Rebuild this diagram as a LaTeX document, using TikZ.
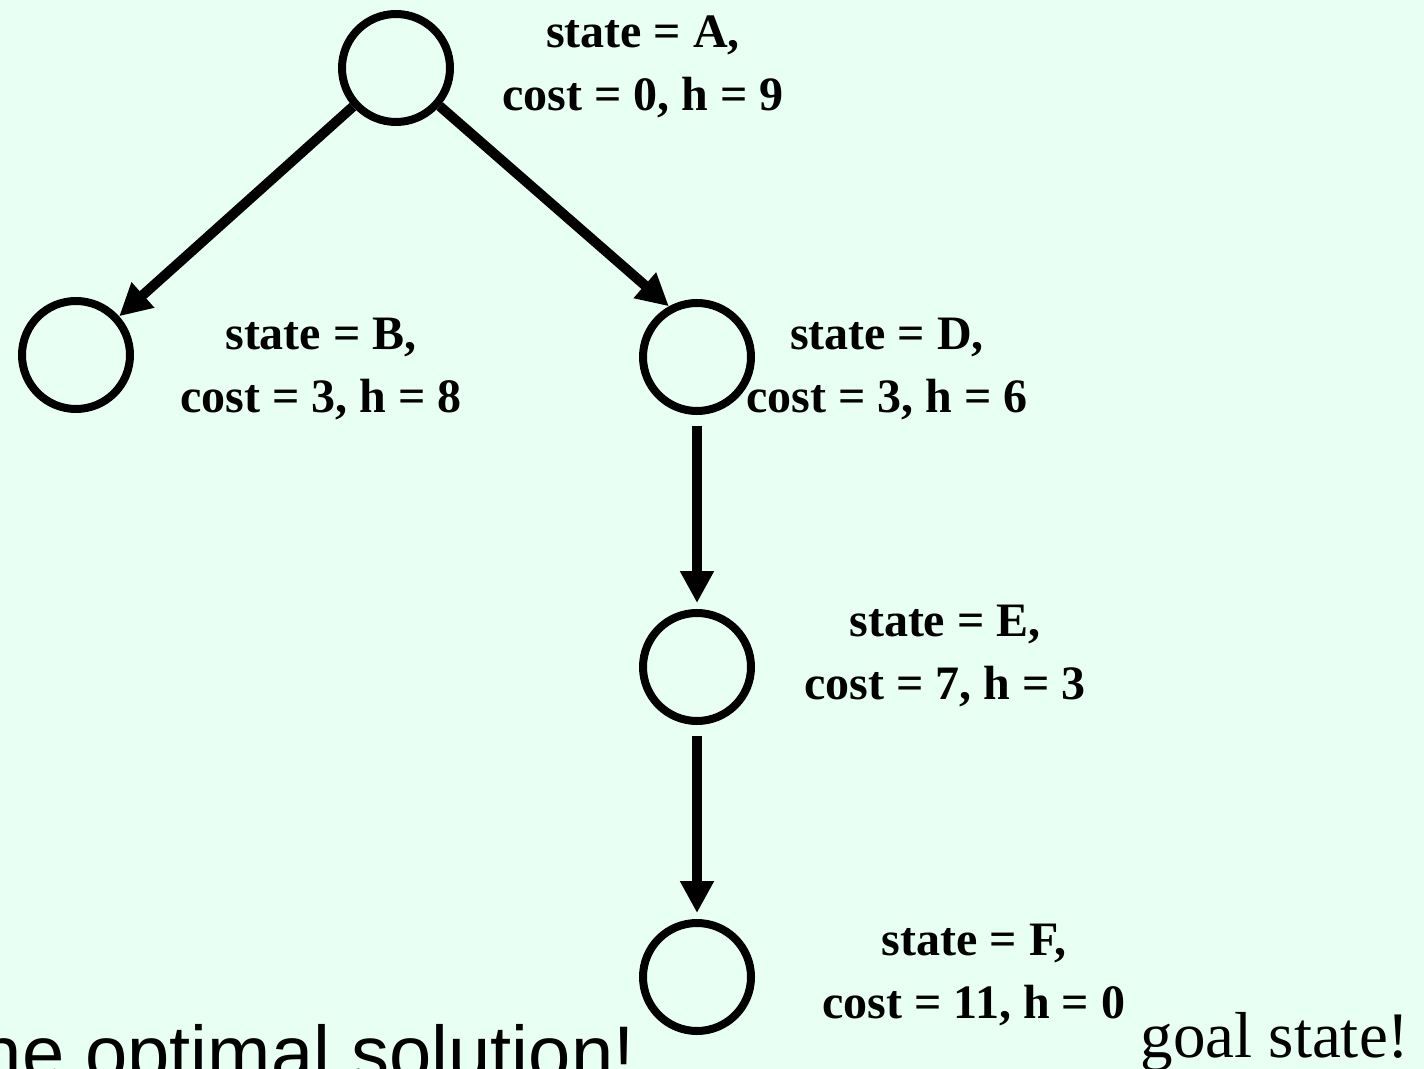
\documentclass[tikz,border=0pt]{standalone}
\usepackage{fontspec}
\setmainfont{Liberation Serif}
\newfontfamily\helv{Liberation Sans}
\usetikzlibrary{positioning,arrows.meta}
\definecolor{fundo}{RGB}{232,255,244}

\begin{document}
\begin{tikzpicture}[
  x=0.5pt, y=-0.5pt,
  node distance=97pt,
  estado/.style={draw, circle, line width=4pt, minimum size=54pt, inner sep=0pt},
  info/.style={align=center, font=\fontsize{24}{31.5}\selectfont\bfseries},
  flecha/.style={-{Triangle[length=16pt,width=16pt]}, line width=5pt}
]
\useasboundingbox (0,0) rectangle (1424,1069);
\fill[fundo] (0,0) rectangle (1424,1069);
\clip (0,0) rectangle (1424,1069);
% states of the search tree
\node[estado] (a) at (396,68) {};
\node[estado] (b) at (76,355) {};
\node[estado] (d) at (697,357) {};
\node[estado, below=of d] (e) {};
\node[estado, below=of e] (f) {};
% path costs and heuristic values
\node[info] (la) at (643,67) {state = A,\\cost = 0, h = 9};
\node[info] (lb) at (321,369) {state = B,\\cost = 3, h = 8};
\node[info] (ld) at (887,369) {state = D,\\cost = 3, h = 6};
\node[info] (le) at (945,656) {state = E,\\cost = 7, h = 3};
\node[info] (lf) at (974,975) {state = F,\\cost = 11, h = 0};
\node[anchor=base, inner sep=0pt, font=\fontsize{32.5}{39}\selectfont] (meta) at (1275,1057) {goal state!};
\node[anchor=base east, inner sep=0pt, font=\helv\fontsize{38}{46}\selectfont] (otima) at (635,1079) {the optimal solution!};
% expansions
\draw[flecha] (a) -- (b);
\draw[flecha] (a) -- (d.119);
\draw[flecha, shorten <=5.5pt, shorten >=3pt] (d) -- (e);
\draw[flecha, shorten <=5.5pt, shorten >=3pt] (e) -- (f);
\end{tikzpicture}
\end{document}
